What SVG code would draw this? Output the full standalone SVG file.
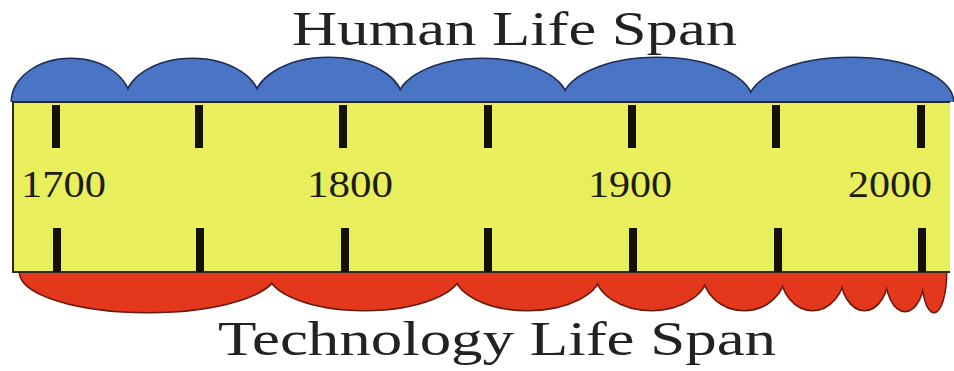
<svg xmlns="http://www.w3.org/2000/svg" width="954" height="371" viewBox="0 0 954 371">
<defs>
<clipPath id="above"><rect x="0" y="0" width="954" height="102"/></clipPath>
<clipPath id="below"><rect x="0" y="272" width="954" height="99"/></clipPath>
<style>
.bs{fill:none;stroke:#1e2c55;stroke-width:3}
.bf{fill:#4a74c4;stroke:none}
.rs{fill:none;stroke:#6a1a10;stroke-width:3}
.rf{fill:#e4381c;stroke:none}
.tick{fill:#141008}
.yr{font-family:"Liberation Serif","Times New Roman",serif;font-size:38px;fill:#1c1c10}
.ttl{font-family:"Liberation Serif","Times New Roman",serif;font-size:48px;fill:#222}
</style>
</defs>
<rect width="954" height="371" fill="#ffffff"/>
<g id="title"><text class="ttl" x="292" y="45" textLength="445" lengthAdjust="spacingAndGlyphs">Human Life Span</text></g>
<g id="human-spans" clip-path="url(#above)">
<g class="bs">
<ellipse cx="71" cy="102" rx="59" ry="43"/>
<ellipse cx="192.5" cy="102" rx="67" ry="43"/>
<ellipse cx="328.5" cy="102" rx="74" ry="44"/>
<ellipse cx="482.5" cy="102" rx="85" ry="43"/>
<ellipse cx="657.5" cy="102" rx="95" ry="44"/>
<ellipse cx="851" cy="102" rx="102" ry="44"/>
</g>
<g class="bf">
<ellipse cx="71" cy="102" rx="59" ry="43"/>
<ellipse cx="192.5" cy="102" rx="67" ry="43"/>
<ellipse cx="328.5" cy="102" rx="74" ry="44"/>
<ellipse cx="482.5" cy="102" rx="85" ry="43"/>
<ellipse cx="657.5" cy="102" rx="95" ry="44"/>
<ellipse cx="851" cy="102" rx="102" ry="44"/>
</g>
</g>
<g id="technology-spans" clip-path="url(#below)">
<g class="rs">
<ellipse cx="148" cy="272" rx="128" ry="40"/>
<ellipse cx="364.5" cy="272" rx="96" ry="38"/>
<ellipse cx="527.5" cy="272" rx="73" ry="38"/>
<ellipse cx="651.5" cy="272" rx="56" ry="38"/>
<ellipse cx="744" cy="272" rx="41" ry="38"/>
<ellipse cx="812.5" cy="272" rx="31.5" ry="38"/>
<ellipse cx="864.5" cy="272" rx="24" ry="38"/>
<ellipse cx="905" cy="272" rx="19.5" ry="39"/>
<ellipse cx="934" cy="272" rx="12" ry="40"/>
</g>
<g class="rf">
<ellipse cx="148" cy="272" rx="128" ry="40"/>
<ellipse cx="364.5" cy="272" rx="96" ry="38"/>
<ellipse cx="527.5" cy="272" rx="73" ry="38"/>
<ellipse cx="651.5" cy="272" rx="56" ry="38"/>
<ellipse cx="744" cy="272" rx="41" ry="38"/>
<ellipse cx="812.5" cy="272" rx="31.5" ry="38"/>
<ellipse cx="864.5" cy="272" rx="24" ry="38"/>
<ellipse cx="905" cy="272" rx="19.5" ry="39"/>
<ellipse cx="934" cy="272" rx="12" ry="40"/>
</g>
</g>
<g id="timeline">
<rect x="13" y="102" width="937" height="170" fill="#e8ee5c"/>
<path d="M950 102 H13 V272 H950" fill="none" stroke="#2a2a22" stroke-width="2"/>
<g class="tick">
<rect x="52" y="105" width="8" height="43"/>
<rect x="195" y="105" width="8" height="43"/>
<rect x="339" y="105" width="8" height="43"/>
<rect x="484" y="105" width="8" height="43"/>
<rect x="628" y="105" width="8" height="43"/>
<rect x="772" y="105" width="8" height="43"/>
<rect x="917" y="105" width="8" height="43"/>
<rect x="53" y="228" width="8" height="44"/>
<rect x="196" y="228" width="8" height="44"/>
<rect x="341" y="228" width="8" height="44"/>
<rect x="484" y="228" width="8" height="44"/>
<rect x="629" y="228" width="8" height="44"/>
<rect x="774" y="228" width="8" height="44"/>
<rect x="918" y="228" width="8" height="44"/>
</g>
<text class="yr" x="21" y="197" textLength="85" lengthAdjust="spacingAndGlyphs">1700</text>
<text class="yr" x="307" y="197" textLength="86" lengthAdjust="spacingAndGlyphs">1800</text>
<text class="yr" x="588" y="197" textLength="84" lengthAdjust="spacingAndGlyphs">1900</text>
<text class="yr" x="848" y="197" textLength="84" lengthAdjust="spacingAndGlyphs">2000</text>
</g>
<g id="subtitle"><text class="ttl" x="218" y="355" textLength="558" lengthAdjust="spacingAndGlyphs">Technology Life Span</text></g>
</svg>
